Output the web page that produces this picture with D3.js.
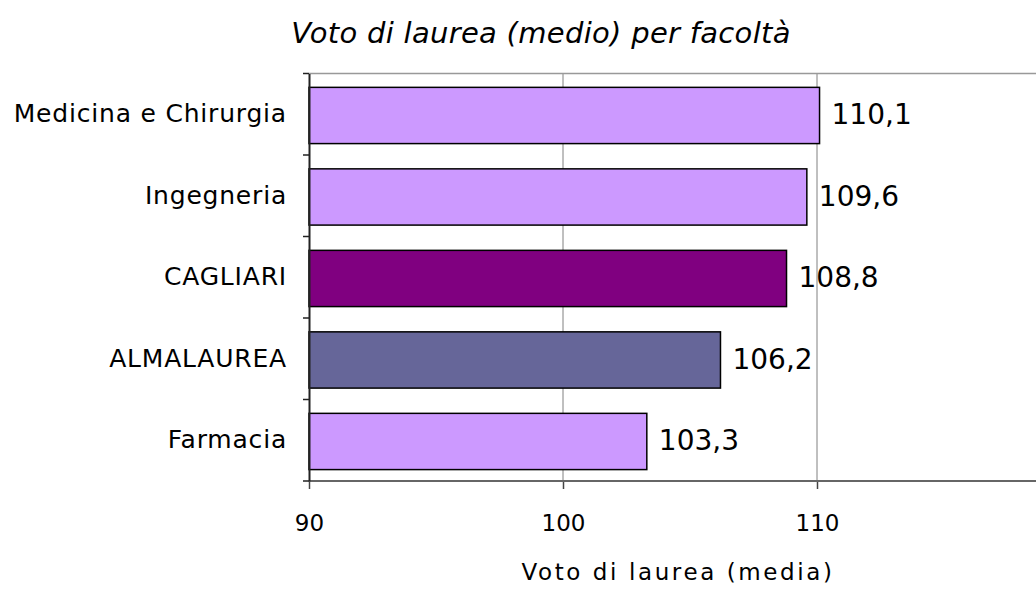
<!DOCTYPE html>
<html>
<head>
<meta charset="utf-8">
<script src="https://cdn.jsdelivr.net/npm/d3@7/dist/d3.min.js"></script>
<style>
  html, body { margin: 0; padding: 0; background: #fff; }
  svg { display: block; }
  text { font-family: "DejaVu Sans", sans-serif; fill: #000; }
</style>
</head>
<body>
<svg id="chart" width="1036" height="589"></svg>
<script>
const categories = ["Medicina e Chirurgia", "Ingegneria", "CAGLIARI", "ALMALAUREA", "Farmacia"];
const values = [110.1, 109.6, 108.8, 106.2, 103.3];
const barColors = ["#CC99FF", "#CC99FF", "#800080", "#666699", "#CC99FF"];
const xTicks = [90, 100, 110];
const xDomain = [90, 120];
const title = "Voto di laurea (medio) per facoltà";
const xTitle = "Voto di laurea (media)";

const svg = d3.select("#chart");
const W = 1036, H = 589;
const plot = { left: 309, top: 73.5, bottom: 481, right: 1071 };

const x = d3.scaleLinear().domain(xDomain).range([plot.left, plot.right]);
const y = d3.scaleBand().domain(categories).range([plot.top, plot.bottom]).padding(0);

const fmt = v => d3.format(".1f")(v).replace(".", ",");

// gridlines
svg.append("g")
  .selectAll("line")
  .data(xTicks.filter(t => t !== xDomain[0]).concat([120]))
  .join("line")
  .attr("x1", d => x(d)).attr("x2", d => x(d))
  .attr("y1", plot.top).attr("y2", plot.bottom)
  .attr("stroke", "#808080").attr("stroke-width", 1);

// top border
svg.append("line")
  .attr("x1", plot.left).attr("x2", W)
  .attr("y1", plot.top).attr("y2", plot.top)
  .attr("stroke", "#999").attr("stroke-width", 1.5);

// bars
svg.append("g")
  .selectAll("rect")
  .data(categories)
  .join("rect")
  .attr("x", x(xDomain[0]))
  .attr("y", d => y(d) + y.bandwidth() * 0.17)
  .attr("width", (d, i) => x(values[i]) - x(xDomain[0]))
  .attr("height", y.bandwidth() * 0.69)
  .attr("fill", (d, i) => barColors[i])
  .attr("stroke", "#000").attr("stroke-width", 1.5);

// value labels
svg.append("g")
  .selectAll("text")
  .data(categories)
  .join("text")
  .attr("x", (d, i) => x(values[i]) + 12)
  .attr("y", d => y(d) + y.bandwidth() / 2 + 10)
  .attr("font-size", 28)
  .text((d, i) => fmt(values[i]));

// x axis
const xAxis = d3.axisBottom(x).tickValues(xTicks).tickSize(8).tickPadding(26).tickFormat(d3.format("d"));
const gx = svg.append("g").attr("transform", `translate(0,${plot.bottom})`).call(xAxis);
gx.select(".domain").remove();
gx.selectAll(".tick line").attr("stroke", "#444").attr("stroke-width", 1.5);
gx.selectAll(".tick text").attr("font-size", 23).attr("font-family", "DejaVu Sans").attr("fill", "#000");
svg.append("line")
  .attr("x1", plot.left).attr("x2", W)
  .attr("y1", plot.bottom).attr("y2", plot.bottom)
  .attr("stroke", "#666").attr("stroke-width", 2);

// y axis
const yAxis = d3.axisLeft(y).tickSize(0).tickPadding(22);
const gy = svg.append("g").attr("transform", `translate(${plot.left},0)`).call(yAxis);
gy.select(".domain").attr("stroke", "#222").attr("stroke-width", 2);
gy.selectAll(".tick text").attr("font-size", 25).attr("letter-spacing", 0.8)
  .attr("font-family", "DejaVu Sans").attr("fill", "#000");
// boundary ticks
const bounds = categories.map(c => y(c)).concat([plot.bottom]);
svg.append("g").selectAll("line").data(bounds).join("line")
  .attr("x1", plot.left - 6).attr("x2", plot.left)
  .attr("y1", d => d).attr("y2", d => d)
  .attr("stroke", "#222").attr("stroke-width", 1.5);

// title
svg.append("text")
  .attr("x", 541).attr("y", 43)
  .attr("text-anchor", "middle")
  .attr("font-size", 29).attr("font-style", "italic").attr("letter-spacing", 0.3)
  .text(title);

// axis title
svg.append("text")
  .attr("x", 678).attr("y", 580)
  .attr("text-anchor", "middle")
  .attr("font-size", 23).attr("letter-spacing", 2.6)
  .text(xTitle);
</script>
</body>
</html>
